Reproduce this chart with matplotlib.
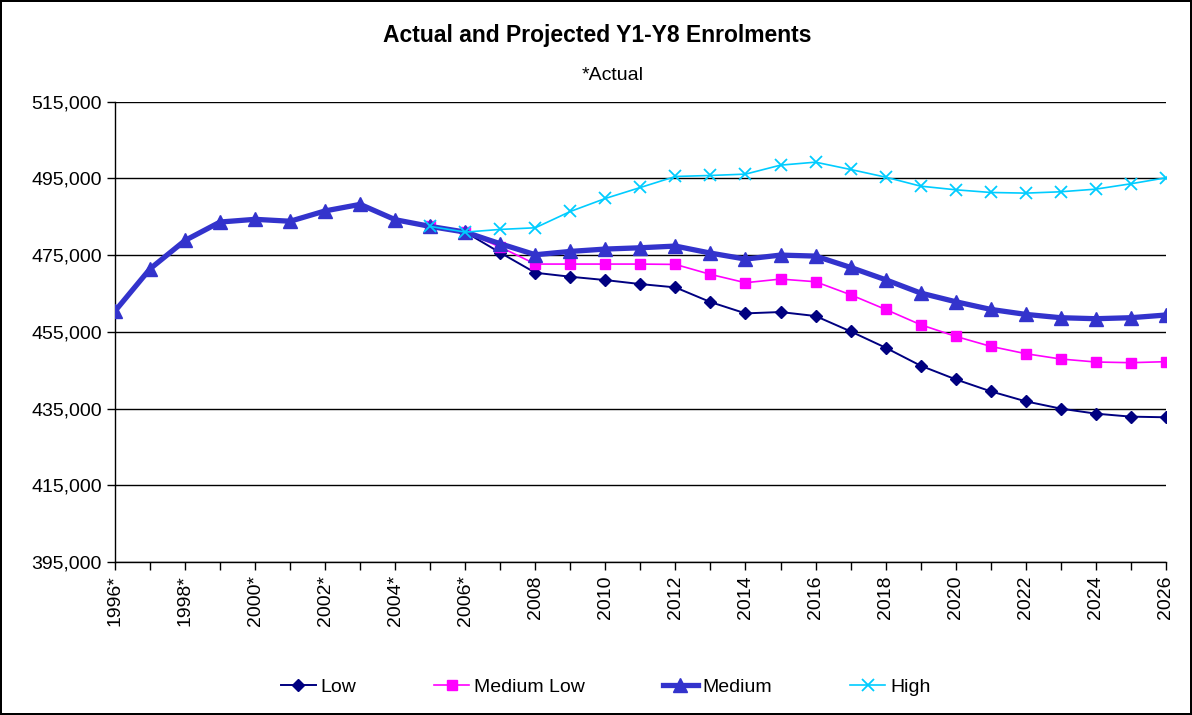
import matplotlib
matplotlib.use('Agg')
from matplotlib import pyplot as plt
from matplotlib.ticker import FuncFormatter, MultipleLocator

plt.rcParams['font.family'] = ['Liberation Sans', 'DejaVu Sans']

# data
years_medium = list(range(1996, 2027))
medium = [460400, 471400, 478800, 483600, 484300, 483800, 486500, 488200,
          484200, 482450, 480970, 477930, 475070, 475940, 476550, 476890,
          477330, 475500, 473940, 474980, 474720, 471770, 468560, 465090,
          462830, 460830, 459530, 458660, 458400, 458660, 459360]

years_proj = list(range(2005, 2027))
low = [482450, 480970, 475590, 470380, 469340, 468470, 467430, 466560,
       462740, 459790, 460140, 459100, 455100, 450850, 446160, 442600,
       439480, 436870, 434970, 433660, 432880, 432710]
medium_low = [482450, 480970, 477070, 472640, 472640, 472640, 472640, 472550,
              469950, 467780, 468730, 468040, 464650, 460830, 456840, 453800,
              451200, 449290, 447900, 447120, 446940, 447200]
high = [482450, 480970, 481670, 482100, 486350, 489740, 492600, 495470,
        495730, 496080, 498420, 499200, 497290, 495300, 492950, 492000,
        491300, 491130, 491480, 492170, 493560, 495120]

y_ticks = list(range(395000, 515001, 20000))
tick_years = list(range(1996, 2027, 2))
tick_labels = ['1996*', '1998*', '2000*', '2002*', '2004*', '2006*',
               '2008', '2010', '2012', '2014', '2016', '2018', '2020',
               '2022', '2024', '2026']

fig = plt.figure(figsize=(11.92, 7.15), dpi=100, linewidth=1.5, edgecolor='black')
ax = fig.add_axes([0.0965, 0.214, 0.8815, 0.644])

ax.plot(years_proj, low, color='#000080', lw=1.4, marker='D', ms=6, label='Low', zorder=3)
ax.plot(years_proj, medium_low, color='#FF00FF', lw=1.2, marker='s', ms=7.5, label='Medium Low', zorder=4)
ax.plot(years_medium, medium, color='#3333CC', lw=3.8, marker='^', ms=9.5, label='Medium', zorder=5)
ax.plot(years_proj, high, color='#00CCFF', lw=1.2, marker='x', ms=8, mew=1.3, label='High', zorder=6)

ax.set_xlim(1996, 2026)
ax.set_ylim(395000, 515000)
ax.set_yticks(y_ticks)
ax.yaxis.set_major_formatter(FuncFormatter(lambda v, p: f'{int(v):,}'))
ax.set_xticks(tick_years)
ax.set_xticklabels(tick_labels, rotation=90)
ax.xaxis.set_minor_locator(MultipleLocator(1))
ax.tick_params(axis='both', labelsize=14, length=6, width=1, direction='out', color='black')
ax.tick_params(axis='x', which='minor', length=6, width=1)
ax.grid(axis='y', color='black', lw=1)
ax.set_axisbelow(True)
for side in ['top', 'right']:
    ax.spines[side].set_visible(False)
ax.spines['left'].set_linewidth(1)
ax.spines['bottom'].set_linewidth(1)

fig.text(0.501, 0.95, 'Actual and Projected Y1-Y8 Enrolments', ha='center', va='center',
         fontsize=16.5, fontweight='bold')
fig.text(0.514, 0.895, '*Actual', ha='center', va='center', fontsize=14)

fig.legend(loc='center', bbox_to_anchor=(0.508, 0.039), ncol=4, frameon=False,
           fontsize=14, handlelength=1.8, handletextpad=0.25, columnspacing=4.0)

plt.savefig('out.png', dpi=100)
plt.close()
